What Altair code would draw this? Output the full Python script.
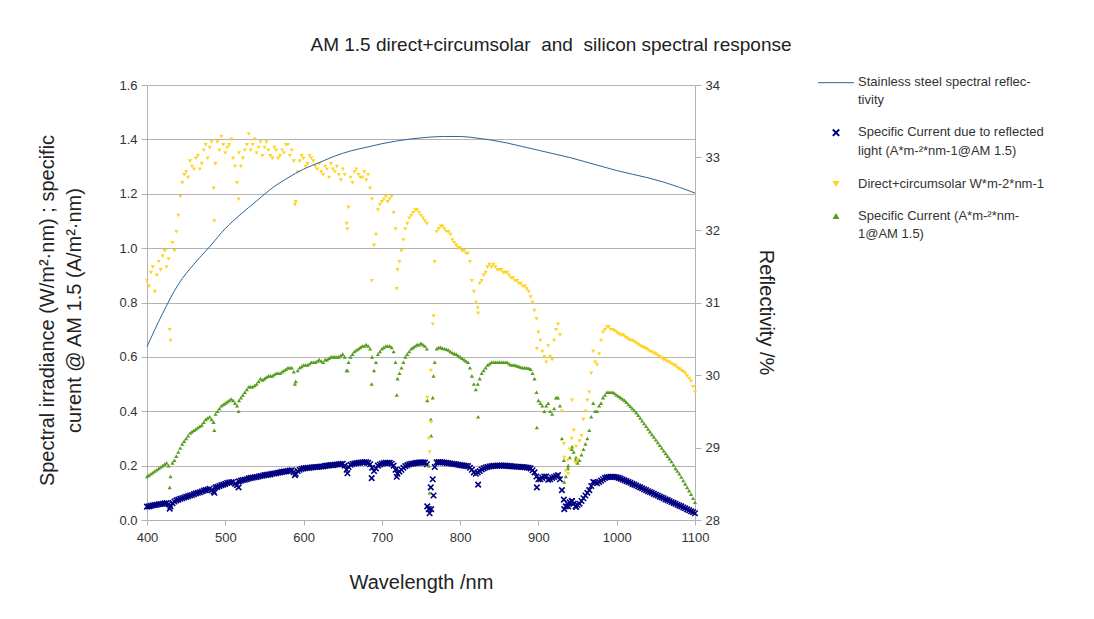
import altair as alt
import pandas as pd

FONT = "Liberation Sans"

# ---------------- data ----------------
wavelength = list(range(400, 1101, 5))
mid_wavelength = [402.5 + 5 * i for i in range(140)]

direct_irradiance = [
    0.88, 0.91, 0.84, 0.95, 0.97, 0.93, 0.66, 0.99, 1.12, 1.24,
    1.28, 1.32, 1.29, 1.34, 1.31, 1.38, 1.37, 1.22, 1.39, 1.41,
    1.35, 1.38, 1.33, 1.24, 1.30, 1.36, 1.42, 1.38, 1.35, 1.39,
    1.37, 1.36, 1.33, 1.36, 1.34, 1.35, 1.38, 1.36, 1.17, 1.32,
    1.33, 1.31, 1.33, 1.30, 1.31, 1.27, 1.29, 1.31, 1.28, 1.27,
    1.29, 1.09, 1.26, 1.28, 1.27, 1.26, 1.25, 1.22, 1.01, 1.14,
    1.17, 1.19, 1.18, 1.13, 0.92, 0.99, 1.07, 1.11, 1.13, 1.14,
    1.12, 1.10, 0.30, 0.72, 1.06, 1.08, 1.07, 1.06, 1.03, 1.01,
    1.00, 0.99, 0.98, 0.88, 0.80, 0.87, 0.90, 0.93, 0.93, 0.93,
    0.92, 0.91, 0.91, 0.89, 0.88, 0.87, 0.86, 0.85, 0.82, 0.77,
    0.69, 0.62, 0.58, 0.60, 0.66, 0.72, 0.40, 0.18, 0.26, 0.33,
    0.22, 0.31, 0.40, 0.47, 0.62, 0.57, 0.66, 0.70, 0.71, 0.70,
    0.69, 0.68, 0.675, 0.665, 0.66, 0.65, 0.64, 0.633, 0.625, 0.618,
    0.61, 0.60, 0.59, 0.583, 0.575, 0.567, 0.555, 0.545, 0.53, 0.51,
    0.47,
]
direct_irradiance_mid = [
    0.86, 0.93, 0.90, 0.92, 0.99, 0.96, 1.02, 1.06, 1.19, 1.27,
    1.26, 1.30, 1.33, 1.29, 1.36, 1.33, 1.39, 1.31, 1.36, 1.38,
    1.37, 1.40, 1.30, 1.35, 1.33, 1.38, 1.36, 1.40, 1.37, 1.34,
    1.39, 1.34, 1.37, 1.33, 1.36, 1.38, 1.34, 1.32, 1.28, 1.34,
    1.30, 1.34, 1.32, 1.29, 1.28, 1.30, 1.26, 1.29, 1.30, 1.25,
    1.27, 1.15, 1.24, 1.29, 1.26, 1.28, 1.27, 1.18, 1.05, 1.16,
    1.18, 1.17, 1.19, 1.07, 0.95, 1.03, 1.09, 1.12, 1.14, 1.13,
    1.11, 1.09, 0.55, 0.95, 1.07, 1.08, 1.06, 1.05, 1.02, 1.00,
    0.99, 0.98, 0.95, 0.84, 0.78, 0.88, 0.91, 0.94, 0.94, 0.92,
    0.92, 0.91, 0.90, 0.89, 0.88, 0.87, 0.86, 0.84, 0.80, 0.74,
    0.66, 0.60, 0.64, 0.59, 0.70, 0.68, 0.28, 0.22, 0.30, 0.21,
    0.29, 0.37, 0.44, 0.54, 0.58, 0.61, 0.69, 0.71, 0.70, 0.695,
    0.685, 0.68, 0.67, 0.66, 0.655, 0.645, 0.637, 0.63, 0.62, 0.613,
    0.605, 0.595, 0.587, 0.58, 0.57, 0.56, 0.55, 0.54, 0.52, 0.49,
]

specific_current = [
    0.16, 0.17, 0.18, 0.19, 0.20, 0.21, 0.16, 0.22, 0.25, 0.28,
    0.30, 0.32, 0.33, 0.34, 0.35, 0.37, 0.38, 0.36, 0.40, 0.42,
    0.43, 0.44, 0.44, 0.42, 0.45, 0.47, 0.49, 0.49, 0.50, 0.52,
    0.52, 0.53, 0.53, 0.54, 0.54, 0.55, 0.56, 0.56, 0.51, 0.56,
    0.57, 0.57, 0.58, 0.58, 0.59, 0.58, 0.59, 0.60, 0.60, 0.60,
    0.61, 0.55, 0.60, 0.62, 0.63, 0.64, 0.645, 0.63, 0.55, 0.61,
    0.63, 0.64, 0.64, 0.62, 0.52, 0.56, 0.60, 0.62, 0.635, 0.645,
    0.65, 0.64, 0.20, 0.45, 0.63, 0.635, 0.63, 0.625, 0.615, 0.61,
    0.60, 0.59, 0.58, 0.53, 0.48, 0.52, 0.55, 0.57, 0.58, 0.58,
    0.58, 0.58, 0.58, 0.57, 0.57, 0.565, 0.56, 0.56, 0.555, 0.52,
    0.44, 0.42, 0.42, 0.40, 0.41, 0.45, 0.30, 0.16, 0.23, 0.25,
    0.21, 0.24, 0.28, 0.33, 0.43, 0.40, 0.43, 0.46, 0.47, 0.47,
    0.46, 0.45, 0.44, 0.425, 0.41, 0.395, 0.375, 0.355, 0.335, 0.315,
    0.295, 0.275, 0.255, 0.235, 0.215, 0.19, 0.17, 0.145, 0.12, 0.095,
    0.065,
]
specific_current_mid = [
    0.165, 0.175, 0.185, 0.195, 0.205, 0.20, 0.21, 0.235, 0.265, 0.29,
    0.31, 0.325, 0.335, 0.345, 0.36, 0.375, 0.37, 0.39, 0.41, 0.425,
    0.435, 0.445, 0.43, 0.44, 0.46, 0.48, 0.49, 0.495, 0.51, 0.515,
    0.525, 0.53, 0.535, 0.54, 0.545, 0.555, 0.56, 0.545, 0.55, 0.565,
    0.57, 0.575, 0.58, 0.585, 0.585, 0.59, 0.595, 0.60, 0.60, 0.605,
    0.60, 0.58, 0.61, 0.625, 0.635, 0.64, 0.64, 0.60, 0.58, 0.62,
    0.635, 0.64, 0.635, 0.58, 0.54, 0.58, 0.61, 0.63, 0.64, 0.645,
    0.645, 0.63, 0.37, 0.58, 0.635, 0.632, 0.628, 0.62, 0.612, 0.605,
    0.595, 0.585, 0.56, 0.50, 0.50, 0.54, 0.56, 0.575, 0.58, 0.58,
    0.58, 0.58, 0.575, 0.57, 0.567, 0.562, 0.56, 0.558, 0.54, 0.47,
    0.43, 0.40, 0.43, 0.39, 0.45, 0.42, 0.22, 0.19, 0.26, 0.22,
    0.22, 0.26, 0.30, 0.38, 0.40, 0.42, 0.45, 0.47, 0.47, 0.465,
    0.455, 0.445, 0.433, 0.418, 0.403, 0.385, 0.365, 0.345, 0.325, 0.305,
    0.285, 0.265, 0.245, 0.225, 0.203, 0.18, 0.158, 0.133, 0.108, 0.08,
]

reflected_current = [
    0.049, 0.052, 0.055, 0.058, 0.060, 0.062, 0.050, 0.068, 0.075, 0.080,
    0.085, 0.090, 0.095, 0.100, 0.105, 0.110, 0.115, 0.105, 0.122, 0.128,
    0.133, 0.138, 0.140, 0.128, 0.145, 0.148, 0.153, 0.156, 0.158, 0.162,
    0.165, 0.167, 0.170, 0.172, 0.175, 0.178, 0.180, 0.183, 0.170, 0.185,
    0.190, 0.192, 0.193, 0.195, 0.196, 0.197, 0.200, 0.202, 0.203, 0.205,
    0.207, 0.185, 0.203, 0.208, 0.210, 0.212, 0.213, 0.205, 0.180, 0.200,
    0.207, 0.210, 0.210, 0.200, 0.170, 0.185, 0.198, 0.205, 0.208, 0.210,
    0.212, 0.211, 0.040, 0.150, 0.212, 0.213, 0.211, 0.209, 0.207, 0.205,
    0.202, 0.200, 0.198, 0.185, 0.170, 0.180, 0.190, 0.195, 0.198, 0.199,
    0.200, 0.200, 0.199, 0.198, 0.197, 0.196, 0.195, 0.193, 0.190, 0.175,
    0.150, 0.155, 0.160, 0.150, 0.158, 0.165, 0.110, 0.050, 0.065, 0.060,
    0.055, 0.070, 0.090, 0.110, 0.140, 0.135, 0.145, 0.155, 0.158, 0.159,
    0.157, 0.152, 0.146, 0.140, 0.133, 0.127, 0.120, 0.113, 0.106, 0.100,
    0.093, 0.086, 0.080, 0.073, 0.066, 0.060, 0.053, 0.046, 0.039, 0.032,
    0.025,
]
reflected_current_mid = [
    0.050, 0.054, 0.056, 0.059, 0.061, 0.058, 0.062, 0.072, 0.078, 0.083,
    0.088, 0.092, 0.098, 0.102, 0.108, 0.112, 0.110, 0.120, 0.125, 0.130,
    0.136, 0.139, 0.133, 0.142, 0.147, 0.150, 0.155, 0.157, 0.160, 0.163,
    0.166, 0.168, 0.171, 0.174, 0.177, 0.179, 0.182, 0.176, 0.180, 0.188,
    0.191, 0.192, 0.194, 0.195, 0.197, 0.199, 0.201, 0.202, 0.204, 0.206,
    0.200, 0.195, 0.206, 0.209, 0.211, 0.212, 0.210, 0.192, 0.190, 0.204,
    0.209, 0.210, 0.207, 0.185, 0.178, 0.192, 0.202, 0.207, 0.209, 0.211,
    0.212, 0.205, 0.120, 0.195, 0.213, 0.212, 0.210, 0.208, 0.206, 0.203,
    0.201, 0.199, 0.192, 0.175, 0.175, 0.186, 0.193, 0.197, 0.199, 0.200,
    0.200, 0.200, 0.198, 0.197, 0.196, 0.195, 0.194, 0.192, 0.183, 0.160,
    0.150, 0.160, 0.148, 0.155, 0.162, 0.150, 0.075, 0.060, 0.070, 0.050,
    0.060, 0.080, 0.100, 0.125, 0.138, 0.140, 0.150, 0.157, 0.159, 0.158,
    0.155, 0.149, 0.143, 0.137, 0.130, 0.123, 0.117, 0.110, 0.103, 0.096,
    0.090, 0.083, 0.076, 0.070, 0.063, 0.056, 0.050, 0.043, 0.036, 0.029,
]

# extra points inside the absorption lines / bands
dip_wavelength = [429, 486, 517, 589, 656, 687, 719, 758, 761, 763, 766, 823, 898, 933, 938, 943, 948]
dip_direct = [0.70, 1.10, 1.18, 1.16, 1.07, 0.88, 0.85, 0.45, 0.25, 0.36, 0.75, 0.76, 0.63, 0.23, 0.17, 0.44, 0.27]
dip_current = [0.12, 0.33, 0.40, 0.50, 0.55, 0.50, 0.46, 0.44, 0.10, 0.31, 0.53, 0.38, 0.34, 0.14, 0.20, 0.27, 0.23]
dip_reflected = [0.042, 0.100, 0.120, 0.165, 0.172, 0.154, 0.159, 0.050, 0.025, 0.040, 0.090, 0.130, 0.120, 0.040, 0.050, 0.070, 0.048]

refl_wavelength = list(range(400, 1101, 20))
reflectivity = [
    30.39, 30.85, 31.25, 31.53, 31.77, 32.02, 32.22, 32.40, 32.58, 32.72,
    32.84, 32.93, 33.02, 33.09, 33.14, 33.19, 33.23, 33.26, 33.28, 33.29,
    33.29, 33.27, 33.24, 33.20, 33.15, 33.10, 33.05, 33.00, 32.94, 32.88,
    32.82, 32.77, 32.72, 32.66, 32.59, 32.51,
]

chart_title = "AM 1.5 direct+circumsolar \u00a0and \u00a0silicon spectral response"
legend_labels = [
    "Stainless steel spectral reflec-\ntivity",
    "Specific Current due to reflected\nlight (A*m-\u00b2*nm-1@AM 1.5)",
    "Direct+circumsolar W*m-2*nm-1",
    "Specific Current (A*m-\u00b2*nm-\n1@AM 1.5)",
]

# ---------------- tables ----------------
def series(main_vals, mid_vals, dip_vals):
    return pd.DataFrame({
        "wl": wavelength + mid_wavelength + dip_wavelength,
        "v": main_vals + mid_vals + dip_vals,
    })

df_direct = series(direct_irradiance, direct_irradiance_mid, dip_direct)
df_current = series(specific_current, specific_current_mid, dip_current)
df_reflected = series(reflected_current, reflected_current_mid, dip_reflected)
df_refl = pd.DataFrame({"wl": refl_wavelength, "r": reflectivity})

GRID = "#b3b3b3"
LABEL = "#333333"
TITLE = "#222222"

x_scale = alt.Scale(domain=[400, 1100], nice=False, zero=False)
x_axis = alt.Axis(
    title="Wavelength /nm", values=list(range(400, 1101, 100)), format="d", grid=False,
    labelFlush=False, tickSize=5, labelPadding=6, labelFontSize=13, labelFont=FONT,
    labelColor=LABEL, titleFont=FONT, titleFontSize=20, titleFontWeight="normal",
    titleColor=TITLE, titleY=62, titleBaseline="middle",
    domainColor=GRID, tickColor=GRID,
)
y_scale = alt.Scale(domain=[0, 1.6], nice=False, zero=False)
y_axis = alt.Axis(
    title=["Spectral irradiance (W/m\u00b2\u00b7nm) ; specific", "curent @ AM 1.5 (A/m\u00b2\u00b7nm)"],
    values=[0, 0.2, 0.4, 0.6, 0.8, 1.0, 1.2, 1.4, 1.6], format=".1f",
    grid=True, gridColor=GRID, gridWidth=1, domainColor=GRID, tickColor=GRID,
    labelFlush=False, tickSize=6, labelPadding=4, labelFontSize=13, labelFont=FONT,
    labelColor=LABEL, titleFont=FONT, titleFontSize=20, titleFontWeight="normal",
    titleColor=TITLE, titleAngle=-90, titleX=-110, titleY=225, titleBaseline="top",
    titleAlign="center", titleLineHeight=27,
)
y2_scale = alt.Scale(domain=[28, 34], nice=False, zero=False)
y2_axis = alt.Axis(
    title="Reflectivity /%", orient="right", values=[28, 29, 30, 31, 32, 33, 34], format="d",
    grid=False, domainColor=GRID, tickColor=GRID, tickSize=6, labelPadding=4,
    labelFlush=False, labelFontSize=13, labelFont=FONT, labelColor=LABEL,
    titleFont=FONT, titleFontSize=20, titleFontWeight="normal", titleColor=TITLE,
    titleAngle=90, titleX=70, titleY=227, titleBaseline="middle", titleAlign="center",
)

X = alt.X("wl:Q", scale=x_scale, axis=x_axis)

blue = alt.Chart(df_reflected).mark_point(
    shape="M-1,-1L1,1M-1,1L1,-1", filled=False, size=30, color="#000080",
    strokeWidth=1.6, opacity=1,
).encode(x=X, y=alt.Y("v:Q", scale=y_scale, axis=y_axis))

green = alt.Chart(df_current).mark_point(
    shape="triangle-up", filled=True, size=17, color="#579d1c", opacity=1,
).encode(x=X, y=alt.Y("v:Q", scale=y_scale, axis=y_axis))

yellow = alt.Chart(df_direct).mark_point(
    shape="triangle-down", filled=True, size=17, color="#ffd320", opacity=1,
).encode(x=X, y=alt.Y("v:Q", scale=y_scale, axis=y_axis))

left = alt.layer(blue, green, yellow)

line = alt.Chart(df_refl).mark_line(
    color="#2a649e", strokeWidth=1, interpolate="monotone",
).encode(x=X, y=alt.Y("r:Q", scale=y2_scale, axis=y2_axis))

# ---------------- title and manual legend ----------------
one = pd.DataFrame({"k": [0]})
title_mark = alt.Chart(one).mark_text(
    text=chart_title, align="center", baseline="alphabetic", fontSize=19,
    font=FONT, color=TITLE,
).encode(x=alt.value(404), y=alt.value(-34))

leg_line = alt.Chart(one).mark_rule(color="#2a649e", strokeWidth=1).encode(
    x=alt.value(671), x2=alt.value(707), y=alt.value(-2.3))
leg_x = alt.Chart(one).mark_point(
    shape="M-1,-1L1,1M-1,1L1,-1", filled=False, size=40, color="#000080", strokeWidth=2, opacity=1
).encode(x=alt.value(689), y=alt.value(47.7))
leg_y = alt.Chart(one).mark_point(
    shape="triangle-down", filled=True, size=50, color="#ffd320", opacity=1
).encode(x=alt.value(689), y=alt.value(99))
leg_g = alt.Chart(one).mark_point(
    shape="triangle-up", filled=True, size=50, color="#579d1c", opacity=1
).encode(x=alt.value(689), y=alt.value(131))

leg_texts = []
for lab, yy, lh in zip(legend_labels, [-8.8, 41.2, 92.5, 124.5], [18, 19, 18, 18]):
    leg_texts.append(
        alt.Chart(one).mark_text(
            text=lab, align="left", baseline="top", fontSize=13, font=FONT,
            color=LABEL, lineBreak="\n", lineHeight=lh,
        ).encode(x=alt.value(711), y=alt.value(yy))
    )

chart = alt.layer(
    left, line, title_mark, leg_line, leg_x, leg_y, leg_g, *leg_texts
).resolve_scale(
    y="independent"
).properties(
    width=548,
    height=435,
    padding={"left": 139, "top": 77, "right": 385, "bottom": 90},
    autosize=alt.AutoSizeParams(type="none"),
    background="white",
).configure_view(stroke=None)

chart.save("out.html", embed_options={"renderer": "svg", "actions": False})
